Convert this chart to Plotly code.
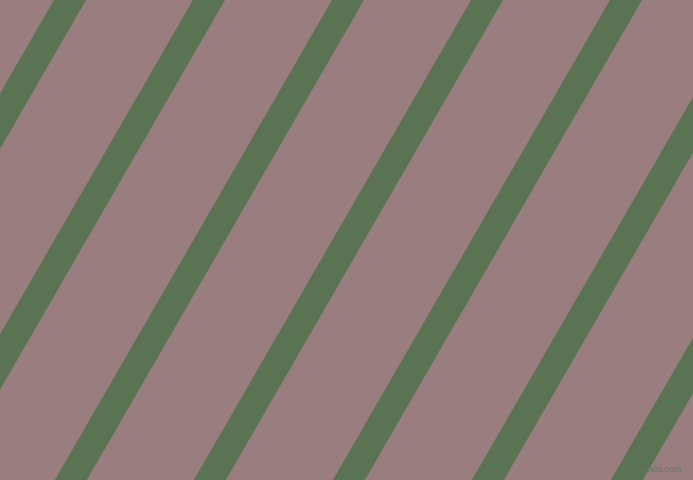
import math
import plotly.graph_objects as go

# stripe pattern: left edge of each stripe where it meets the top border (px)
stripe_starts = [54, 193, 332, 471, 610, 749, 888]
stripe_width = 32          # horizontal width of a stripe
stripe_angle = 60          # degrees from horizontal
img_w, img_h = 693, 480

background = "#997d7f"
stripe_color = "#5a7453"

shift = img_h / math.tan(math.radians(stripe_angle))

fig = go.Figure()
for a in stripe_starts:
    xs = [a, a + stripe_width, a + stripe_width - shift, a - shift, a]
    ys = [0, 0, img_h, img_h, 0]
    fig.add_trace(go.Scatter(x=xs, y=ys, mode="lines", fill="toself",
                             fillcolor=stripe_color, line=dict(width=0, color=stripe_color),
                             hoverinfo="skip", showlegend=False))

# small site watermark, bottom right
fig.add_annotation(x=684, y=476, xref="x", yref="y", text="pixlis.com", showarrow=False,
                   xanchor="right", yanchor="bottom",
                   font=dict(family="Liberation Sans", size=9, color="#66755f"))

fig.update_xaxes(range=[0, img_w], visible=False, fixedrange=True)
fig.update_yaxes(range=[img_h, 0], visible=False, fixedrange=True)
fig.update_layout(width=img_w, height=img_h, margin=dict(l=0, r=0, t=0, b=0),
                  paper_bgcolor=background, plot_bgcolor=background)

# drop the default body margin so the picture fills the window
fig.write_html("out.html", config={"displayModeBar": False},
               post_script="document.body.style.margin='0';")
